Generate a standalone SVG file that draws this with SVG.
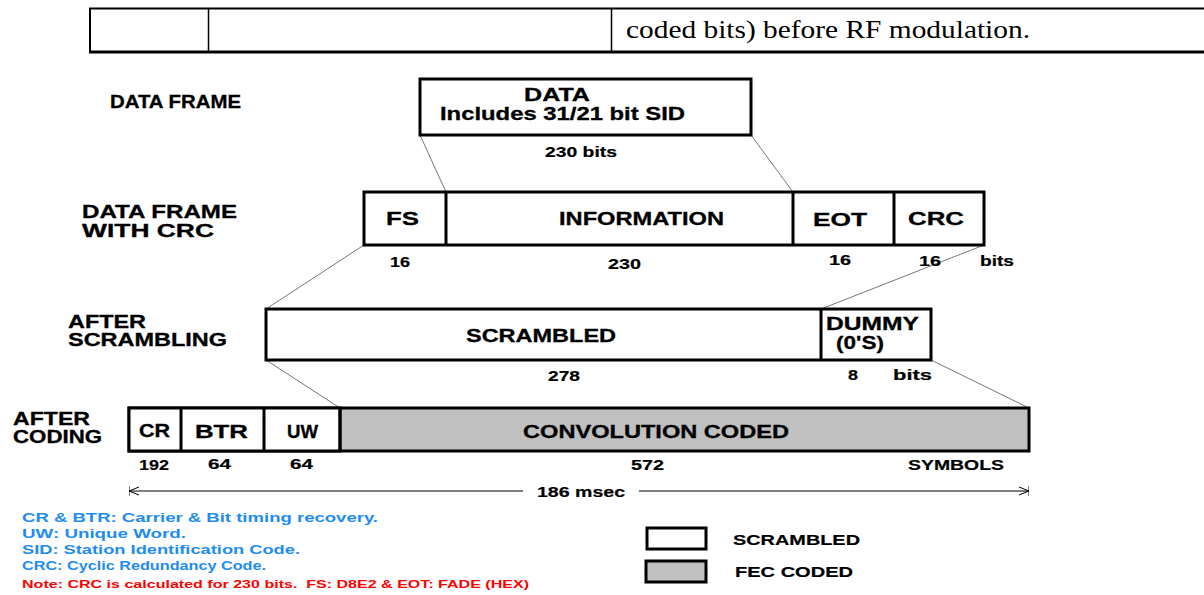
<svg xmlns="http://www.w3.org/2000/svg" width="1204" height="595" viewBox="0 0 1204 595">
<style>
.lbl{font-family:"Liberation Sans",Arial,sans-serif;font-weight:bold;font-size:18px;fill:#000;stroke:#000;stroke-width:0.3}
.num{font-family:"Liberation Sans",Arial,sans-serif;font-weight:bold;font-size:15px;fill:#000;stroke:#000;stroke-width:0.2}
.box{fill:#fff;stroke:#000;stroke-width:3}
.fec{fill:#c0c0c0;stroke:#000;stroke-width:3}
.div{stroke:#000;stroke-width:3}
.con{stroke:#777;stroke-width:1;fill:none}
.blue{font-family:"Liberation Sans",Arial,sans-serif;font-weight:bold;font-size:13px;fill:#1e8cf0}
.red{font-family:"Liberation Sans",Arial,sans-serif;font-weight:bold;font-size:11px;fill:#ff0000;white-space:pre}
.tbl{stroke:#000;fill:none}
</style>
<defs>
<marker id="arr" viewBox="0 0 10 10" refX="10" refY="5" markerWidth="10" markerHeight="10" orient="auto-start-reverse" markerUnits="userSpaceOnUse">
<path d="M0,1 L10,5 L0,9 M10,0 L10,10" fill="none" stroke="#000" stroke-width="1"/>
</marker>
</defs>
<rect width="1204" height="595" fill="#fff"/>

<g id="table">
<line class="tbl" x1="89" y1="8.5" x2="1204" y2="8.5" stroke-width="2"/>
<line class="tbl" x1="89" y1="52" x2="1204" y2="52" stroke-width="3"/>
<line class="tbl" x1="90" y1="8" x2="90" y2="53" stroke-width="2"/>
<line class="tbl" x1="208.5" y1="8" x2="208.5" y2="53" stroke-width="1.5"/>
<line class="tbl" x1="611.5" y1="8" x2="611.5" y2="53" stroke-width="1.5"/>
<text x="626" y="38" font-family="'Liberation Serif','Times New Roman',serif" font-size="25" textLength="404" lengthAdjust="spacingAndGlyphs">coded bits) before RF modulation.</text>
</g>

<g id="connectors">
<line class="con" x1="420" y1="135" x2="446" y2="192"/>
<line class="con" x1="751" y1="135" x2="793" y2="192"/>
<line class="con" x1="364" y1="245" x2="266" y2="309"/>
<line class="con" x1="984" y1="245" x2="821" y2="309"/>
<line class="con" x1="266" y1="360" x2="340" y2="408"/>
<line class="con" x1="931" y1="360" x2="1029" y2="408"/>
</g>

<g id="labels">
<text class="lbl" x="110" y="108" textLength="131" lengthAdjust="spacingAndGlyphs">DATA FRAME</text>
<text class="lbl" x="82" y="218" textLength="155" lengthAdjust="spacingAndGlyphs">DATA FRAME</text>
<text class="lbl" x="82" y="237" textLength="132" lengthAdjust="spacingAndGlyphs">WITH CRC</text>
<text class="lbl" x="68" y="328" textLength="78" lengthAdjust="spacingAndGlyphs">AFTER</text>
<text class="lbl" x="68" y="346" textLength="159" lengthAdjust="spacingAndGlyphs">SCRAMBLING</text>
<text class="lbl" x="13" y="425" textLength="77" lengthAdjust="spacingAndGlyphs">AFTER</text>
<text class="lbl" x="13" y="443" textLength="89" lengthAdjust="spacingAndGlyphs">CODING</text>
</g>

<g id="data-box">
<rect class="box" x="420" y="79" width="331" height="56"/>
<text class="lbl" x="524" y="101" textLength="66" lengthAdjust="spacingAndGlyphs">DATA</text>
<text class="lbl" x="440" y="120" textLength="245" lengthAdjust="spacingAndGlyphs">Includes 31/21 bit SID</text>
<text class="num" x="545" y="157" textLength="72" lengthAdjust="spacingAndGlyphs">230 bits</text>
</g>

<g id="frame-crc">
<rect class="box" x="364" y="192" width="620" height="53"/>
<line class="div" x1="446" y1="192" x2="446" y2="245"/>
<line class="div" x1="793" y1="192" x2="793" y2="245"/>
<line class="div" x1="894" y1="192" x2="894" y2="245"/>
<text class="lbl" x="386" y="225" textLength="33" lengthAdjust="spacingAndGlyphs">FS</text>
<text class="lbl" x="559" y="225" textLength="165" lengthAdjust="spacingAndGlyphs">INFORMATION</text>
<text class="lbl" x="813" y="226" textLength="54" lengthAdjust="spacingAndGlyphs">EOT</text>
<text class="lbl" x="908" y="225" textLength="56" lengthAdjust="spacingAndGlyphs">CRC</text>
<text class="num" x="390" y="267" textLength="20" lengthAdjust="spacingAndGlyphs">16</text>
<text class="num" x="608" y="269" textLength="33" lengthAdjust="spacingAndGlyphs">230</text>
<text class="num" x="829" y="265" textLength="22" lengthAdjust="spacingAndGlyphs">16</text>
<text class="num" x="919" y="266" textLength="22" lengthAdjust="spacingAndGlyphs">16</text>
<text class="num" x="980" y="266" textLength="34" lengthAdjust="spacingAndGlyphs">bits</text>
</g>

<g id="scrambling">
<rect class="box" x="266" y="309" width="665" height="51"/>
<line class="div" x1="821" y1="309" x2="821" y2="360"/>
<text class="lbl" x="466" y="342" textLength="150" lengthAdjust="spacingAndGlyphs">SCRAMBLED</text>
<text class="lbl" x="826" y="330" textLength="93" lengthAdjust="spacingAndGlyphs">DUMMY</text>
<text class="lbl" x="836" y="349" textLength="48" lengthAdjust="spacingAndGlyphs">(0'S)</text>
<text class="num" x="548" y="381" textLength="32" lengthAdjust="spacingAndGlyphs">278</text>
<text class="num" x="848" y="380" textLength="10" lengthAdjust="spacingAndGlyphs">8</text>
<text class="num" x="893" y="380" textLength="39" lengthAdjust="spacingAndGlyphs">bits</text>
</g>

<g id="coding">
<rect class="fec" x="129" y="408" width="900" height="43"/>
<rect x="129" y="408" width="211" height="43" fill="#fff" stroke="#000" stroke-width="3"/>
<line class="div" x1="181" y1="408" x2="181" y2="451"/>
<line class="div" x1="264" y1="408" x2="264" y2="451"/>
<line class="div" x1="340" y1="408" x2="340" y2="451"/>
<text class="lbl" x="139" y="437" textLength="31" lengthAdjust="spacingAndGlyphs">CR</text>
<text class="lbl" x="195" y="438" textLength="53" lengthAdjust="spacingAndGlyphs">BTR</text>
<text class="lbl" x="287" y="438" textLength="31" lengthAdjust="spacingAndGlyphs">UW</text>
<text class="lbl" x="523" y="438" textLength="266" lengthAdjust="spacingAndGlyphs">CONVOLUTION CODED</text>
<text class="num" x="139" y="470" textLength="30" lengthAdjust="spacingAndGlyphs">192</text>
<text class="num" x="208" y="469" textLength="23" lengthAdjust="spacingAndGlyphs">64</text>
<text class="num" x="290" y="469" textLength="23" lengthAdjust="spacingAndGlyphs">64</text>
<text class="num" x="631" y="470" textLength="33" lengthAdjust="spacingAndGlyphs">572</text>
<text class="num" x="908" y="470" textLength="96" lengthAdjust="spacingAndGlyphs">SYMBOLS</text>
</g>

<g id="duration">
<line x1="523" y1="491" x2="129" y2="491" stroke="#000" stroke-width="1" marker-end="url(#arr)"/>
<line x1="639" y1="491" x2="1029" y2="491" stroke="#000" stroke-width="1" marker-end="url(#arr)"/>
<text class="num" x="537" y="497" font-size="16" textLength="88" lengthAdjust="spacingAndGlyphs">186 msec</text>
</g>

<g id="notes">
<text class="blue" x="22" y="522" textLength="356" lengthAdjust="spacingAndGlyphs">CR &amp; BTR: Carrier &amp; Bit timing recovery.</text>
<text class="blue" x="22" y="538" textLength="164" lengthAdjust="spacingAndGlyphs">UW: Unique Word.</text>
<text class="blue" x="22" y="554" textLength="278" lengthAdjust="spacingAndGlyphs">SID: Station Identification Code.</text>
<text class="blue" x="22" y="570" textLength="244" lengthAdjust="spacingAndGlyphs">CRC: Cyclic Redundancy Code.</text>
<text class="red" x="22" y="588" textLength="507" lengthAdjust="spacingAndGlyphs">Note: CRC is calculated for 230 bits.  FS: D8E2 &amp; EOT: FADE (HEX)</text>
</g>

<g id="legend">
<rect class="box" x="647" y="528" width="59" height="21"/>
<rect class="fec" x="646" y="561" width="60" height="21"/>
<text class="num" x="733" y="545" textLength="127" lengthAdjust="spacingAndGlyphs">SCRAMBLED</text>
<text class="num" x="735" y="577" textLength="118" lengthAdjust="spacingAndGlyphs">FEC CODED</text>
</g>
</svg>
